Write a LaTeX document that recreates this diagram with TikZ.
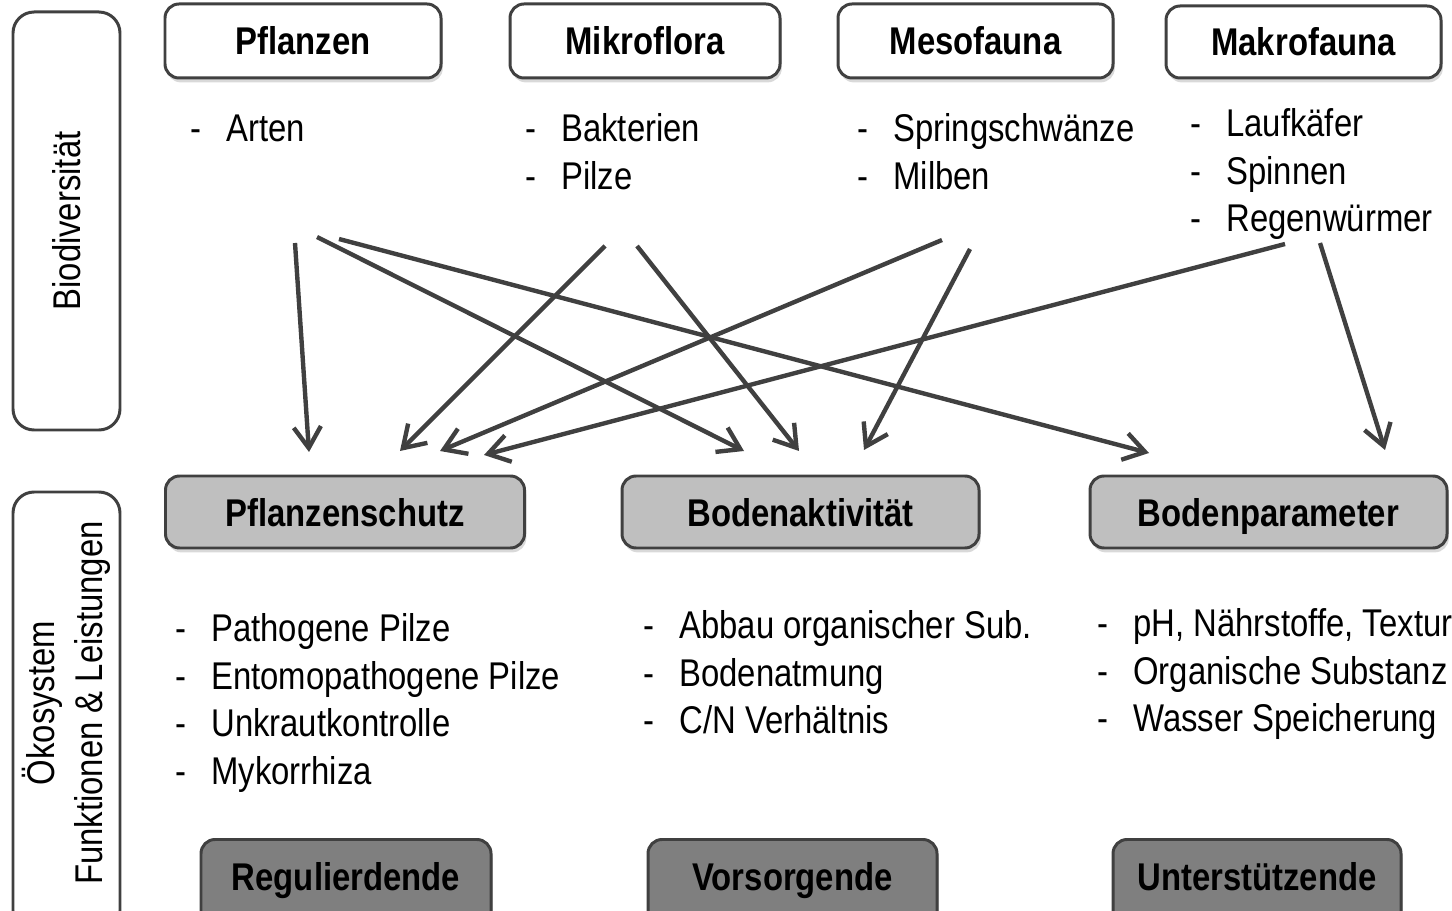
\documentclass[tikz,border=0pt]{standalone}
\usepackage{fontspec}
\setmainfont{Liberation Sans}[FakeStretch=0.85]
\usetikzlibrary{arrows.meta,shadows}
\newlength\pxu
\setlength\pxu{0.02cm}
\definecolor{edge}{HTML}{404040}
\definecolor{midfill}{HTML}{BFBFBF}
\definecolor{lowfill}{HTML}{7F7F7F}
\newcommand\itm[1]{\makebox[36\pxu][l]{-}#1}
\begin{document}
\begin{tikzpicture}[x=0.02cm,y=-0.02cm,
  every node/.style={inner sep=0pt},
  boxbase/.style={draw=edge, line width=1.7pt, rounded corners=8pt,
    font=\fontsize{22}{26}\selectfont\bfseries, text height=28\pxu, text depth=0pt,
    drop shadow={opacity=0.3, shadow xshift=1pt, shadow yshift=-2.5pt}},
  topbox/.style={boxbase, fill=white, minimum height=74\pxu},
  midbox/.style={boxbase, fill=midfill, minimum height=72\pxu},
  lowbox/.style={boxbase, fill=lowfill, anchor=north, minimum height=92\pxu, text depth=18\pxu},
  sidebox/.style={draw=edge, line width=1.7pt, rounded corners=12pt, rotate=90, minimum height=107\pxu},
  sidefont/.style={align=center, font=\fontsize{22}{27.2}\selectfont},
  listtext/.style={anchor=north west, align=left, font=\fontsize{22}{27.2}\selectfont},
  link/.style={draw=edge, line width=2.5pt, -{Straight Barb[length=12pt, width=15.5pt]}}
]
\useasboundingbox (0,0) rectangle (1452,911);
\clip (0,0) rectangle (1452,911);

% side boxes
\node[sidebox, sidefont, minimum width=418\pxu] (bio) at (66.5,221) {Biodiversität};
\node[sidebox, minimum width=440\pxu] (oekobox) at (66.5,712) {};
\node[sidefont, rotate=90] (oeko) at (66.5,703) {Ökosystem\\Funktionen \& Leistungen};

% top boxes
\node[topbox, minimum width=276\pxu] (pfl) at (303,41) {Pflanzen};
\node[topbox, minimum width=270\pxu] (mik) at (645,41) {Mikroflora};
\node[topbox, minimum width=275\pxu] (mes) at (975.5,41) {Mesofauna};
\node[topbox, minimum width=275\pxu, minimum height=72\pxu] (mak) at (1303.5,42) {Makrofauna};

% top lists
\node[listtext] (lpfl) at (190,113) {\rule{0pt}{28\pxu}\itm{Arten}};
\node[listtext] (lmik) at (525,113) {\rule{0pt}{28\pxu}\itm{Bakterien}\\\itm{Pilze}};
\node[listtext] (lmes) at (857,113) {\rule{0pt}{28\pxu}\itm{Springschwänze}\\\itm{Milben}};
\node[listtext] (lmak) at (1190,108) {\rule{0pt}{28\pxu}\itm{Laufkäfer}\\\itm{Spinnen}\\\itm{Regenwürmer}};

% middle boxes
\node[midbox, minimum width=359\pxu] (psch) at (345,512) {Pflanzenschutz};
\node[midbox, minimum width=357\pxu] (bakt) at (800.5,512) {Bodenaktivität};
\node[midbox, minimum width=357\pxu] (bpar) at (1268.5,512) {Bodenparameter};

% middle lists
\node[listtext] (lpsch) at (175,613) {\rule{0pt}{28\pxu}\itm{Pathogene Pilze}\\\itm{Entomopathogene Pilze}\\\itm{Unkrautkontrolle}\\\itm{Mykorrhiza}};
\node[listtext] (lbakt) at (643,610) {\rule{0pt}{28\pxu}\itm{Abbau organischer Sub.}\\\itm{Bodenatmung}\\\itm{C/N Verhältnis}};
\node[listtext] (lbpar) at (1097,608) {\rule{0pt}{28\pxu}\itm{pH, Nährstoffe, Textur}\\\itm{Organische Substanz}\\\itm{Wasser Speicherung}};

% bottom boxes
\node[lowbox, minimum width=290\pxu] (reg) at (346,838) {Regulierdende};
\node[lowbox, minimum width=289\pxu] (vor) at (792.5,838) {Vorsorgende};
\node[lowbox, minimum width=288\pxu] (unt) at (1257,838) {Unterstützende};

% arrow ends
\coordinate (s1) at (295,243);  \coordinate (e1) at (309,452);
\coordinate (s2) at (317,237);  \coordinate (e2) at (744,451);
\coordinate (s3) at (339,239);  \coordinate (e3) at (1149,453);
\coordinate (s4) at (605,246);  \coordinate (e4) at (400,451);
\coordinate (s5) at (637,246);  \coordinate (e5) at (799,451);
\coordinate (s6) at (942,240);  \coordinate (e6) at (440,451);
\coordinate (s7) at (970,249);  \coordinate (e7) at (864,450);
\coordinate (s8) at (1285,244); \coordinate (e8) at (484,455);
\coordinate (s9) at (1320,243); \coordinate (e9) at (1385,450);

\draw[link] (s1) -- (e1);
\draw[link] (s2) -- (e2);
\draw[link] (s3) -- (e3);
\draw[link] (s4) -- (e4);
\draw[link] (s5) -- (e5);
\draw[link] (s6) -- (e6);
\draw[link] (s7) -- (e7);
\draw[link] (s8) -- (e8);
\draw[link] (s9) -- (e9);
\end{tikzpicture}
\end{document}
